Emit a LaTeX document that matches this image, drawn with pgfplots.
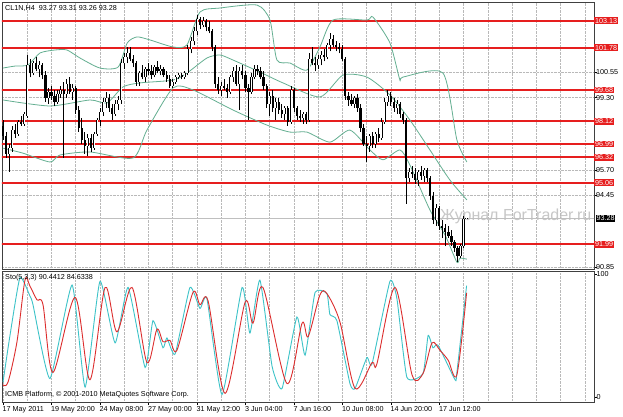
\documentclass[border=0pt]{standalone}
\usepackage{pgfplots}
\pgfplotsset{compat=1.18}
\usepackage{pgfplotstable}
\usepackage{fontspec}
\setmainfont{Liberation Sans}
\definecolor{mtred}{RGB}{230,30,30}
\definecolor{band}{RGB}{100,175,145}
\definecolor{stok}{RGB}{60,195,200}
\definecolor{stod}{RGB}{220,45,45}
\definecolor{gridc}{RGB}{185,185,185}
\newcommand{\fs}{\fontsize{7.2}{8}\selectfont}

\pgfplotstableread{
i o h l c
0 97.90 98.20 97.20 97.40
1 97.40 97.60 96.30 96.50
2 96.50 97.00 95.60 96.80
3 96.80 97.90 96.60 97.70
4 97.70 98.00 97.30 97.50
5 97.50 98.20 97.40 98.10
6 98.10 98.40 97.90 98.00
7 98.00 98.60 97.90 98.50
8 98.40 101.40 98.30 100.90
9 100.90 101.20 100.30 100.50
10 100.50 101.10 100.40 101.00
11 101.00 101.30 100.60 100.70
12 100.70 101.10 100.30 100.90
13 100.90 101.00 100.20 100.40
14 100.40 100.60 99.10 99.30
15 99.30 99.80 99.00 99.60
16 99.60 99.90 99.20 99.40
17 99.40 99.70 98.90 99.10
18 99.10 99.70 99.00 99.50
19 99.50 99.90 99.30 99.70
20 99.70 100.10 96.30 99.50
21 99.50 100.20 99.30 100.00
22 100.00 100.30 99.50 99.60
23 99.60 100.00 99.20 99.80
24 99.80 99.90 98.50 98.70
25 98.70 98.90 97.60 97.80
26 97.80 98.30 97.00 97.20
27 97.20 97.60 96.50 96.90
28 96.90 97.50 96.40 97.30
29 97.30 97.50 96.60 96.80
30 96.80 97.60 96.70 97.50
31 97.50 98.30 97.40 98.20
32 98.20 98.80 97.90 98.60
33 98.60 99.30 98.40 99.10
34 99.10 99.60 98.80 99.30
35 99.30 99.50 98.60 98.80
36 98.80 99.00 98.20 98.50
37 98.50 99.20 98.40 99.00
38 99.00 99.40 98.70 99.20
39 99.20 101.20 99.00 101.00
40 101.00 101.50 100.70 101.30
41 101.30 101.80 101.00 101.50
42 101.50 101.80 101.10 101.20
43 101.20 101.40 100.80 101.00
44 101.00 101.10 99.90 100.10
45 100.10 100.60 99.90 100.50
46 100.50 100.90 100.20 100.30
47 100.30 100.80 100.10 100.70
48 100.70 101.00 100.40 100.60
49 100.60 100.90 100.20 100.40
50 100.40 100.90 100.30 100.80
51 100.80 101.10 100.50 100.60
52 100.60 100.90 100.40 100.70
53 100.70 100.80 100.30 100.40
54 100.40 100.60 100.10 100.20
55 100.20 100.40 99.80 99.90
56 99.90 100.20 99.80 100.10
57 100.10 100.40 100.00 100.30
58 100.30 100.50 100.20 100.40
59 100.40 100.50 100.20 100.30
60 100.30 100.60 100.20 100.50
61 100.50 101.90 100.40 101.70
62 101.70 102.30 101.50 102.10
63 102.10 102.80 101.90 102.60
64 102.60 103.40 102.40 103.20
65 103.20 103.30 102.70 102.90
66 102.90 103.30 102.80 103.10
67 103.10 103.20 102.60 102.80
68 102.80 103.10 102.50 102.60
69 102.60 102.70 101.60 101.80
70 101.80 101.90 99.80 100.00
71 100.00 100.30 99.50 99.70
72 99.70 100.10 99.40 99.90
73 99.90 100.20 99.70 99.80
74 99.80 100.00 99.30 99.60
75 99.60 100.40 99.50 100.30
76 100.30 100.80 100.10 100.60
77 100.60 100.90 99.90 100.00
78 100.00 100.80 98.70 100.60
79 100.60 100.90 100.20 100.40
80 100.40 100.60 99.60 99.80
81 99.80 100.00 98.20 99.60
82 99.60 100.50 99.50 100.30
83 100.30 100.90 100.20 100.70
84 100.70 100.90 100.40 100.60
85 100.60 100.80 100.20 100.30
86 100.30 100.60 99.70 99.90
87 99.90 100.00 98.80 99.00
88 99.00 99.60 98.40 99.40
89 99.40 99.70 98.60 98.80
90 98.80 99.30 98.20 99.10
91 99.10 99.30 98.50 98.70
92 98.70 99.00 98.30 98.50
93 98.50 98.90 98.20 98.80
94 98.80 98.90 97.90 98.10
95 98.10 99.90 98.00 99.70
96 99.70 99.80 98.60 98.80
97 98.80 98.90 98.20 98.40
98 98.40 98.70 98.10 98.30
99 98.30 98.60 98.00 98.50
100 98.50 98.60 98.00 98.20
101 98.20 101.50 98.10 101.20
102 101.20 101.80 100.90 101.00
103 101.00 101.30 100.60 100.90
104 100.90 101.40 100.70 101.20
105 101.20 101.60 100.90 101.40
106 101.40 101.70 101.10 101.30
107 101.30 102.00 101.20 101.90
108 101.90 102.50 101.60 102.20
109 102.20 102.40 101.80 101.90
110 101.90 102.10 101.60 101.80
111 101.80 102.00 101.50 101.70
112 101.70 101.90 101.10 101.20
113 101.20 101.30 99.20 99.40
114 99.40 99.60 98.90 99.20
115 99.20 99.50 98.90 99.00
116 99.00 99.40 98.80 99.30
117 99.30 99.50 98.60 98.80
118 98.80 99.00 97.60 97.80
119 97.80 98.00 96.90 97.00
120 97.00 97.40 96.10 96.90
121 96.90 97.50 96.60 97.40
122 97.40 97.60 96.80 97.00
123 97.00 97.60 96.80 97.50
124 97.50 97.80 97.10 97.30
125 97.30 98.30 97.20 98.10
126 98.10 99.30 98.00 99.10
127 99.10 99.70 98.90 99.40
128 99.40 99.60 98.90 99.10
129 99.10 99.30 98.60 98.80
130 98.80 99.20 98.50 99.00
131 99.00 99.10 98.30 98.50
132 98.50 98.60 98.00 98.20
133 98.20 98.30 94.00 95.30
134 95.30 95.80 95.10 95.60
135 95.60 95.90 95.30 95.50
136 95.50 95.80 95.00 95.20
137 95.20 95.70 94.90 95.60
138 95.60 95.90 95.20 95.40
139 95.40 95.80 95.10 95.70
140 95.70 95.80 95.10 95.30
141 95.30 95.40 94.20 94.40
142 94.40 94.60 93.00 93.20
143 93.20 94.00 92.90 93.80
144 93.80 93.90 92.70 92.90
145 92.90 93.20 92.30 92.80
146 92.80 93.00 91.90 92.60
147 92.60 92.90 92.30 92.40
148 92.40 92.70 91.90 92.10
149 92.10 92.20 91.60 91.80
150 91.80 91.90 91.10 91.40
151 91.40 92.00 91.30 91.90
152 91.90 93.40 91.80 93.27
153 93.27 93.31 93.26 93.28
}\candles

\pgfplotstableread{
i v
0 100.77
4 100.87
8.3 100.92
12.2 101.52
17.2 101.67
21.1 101.67
25.4 101.27
32 100.77
38 100.82
41 102.02
44.2 102.32
48.5 102.17
56.1 101.82
60.7 101.92
65 103.56
71.6 103.76
83.8 103.91
88.1 103.16
90.4 101.17
94.7 101.02
100.3 100.67
104.6 101.82
108.9 103.16
120.1 103.16
122.1 103.31
127.7 102.02
131 100.17
132 100.32
145.2 100.52
149.8 97.19
153.1 96.09
}\bbu

\pgfplotstableread{
i v
0 99.18
15.5 98.88
28.7 99.18
34.3 99.03
39.6 99.83
45.2 100.03
56.1 100.17
60.7 100.52
67.3 101.27
71.6 101.42
75.9 101.17
84.8 100.57
92.4 100.03
104.6 99.33
112.2 100.42
120.1 100.32
127.7 99.43
134.3 98.18
140.9 96.69
147.5 95.19
153.1 94.20
}\bbm

\pgfplotstableread{
i v
0 96.78
6.6 96.53
15.5 96.09
18.8 96.44
28.7 96.59
42.9 96.29
47.5 97.68
56.1 99.78
62.7 99.68
75.9 98.68
87.1 97.93
94.7 97.58
100.3 97.58
107.9 97.08
114.5 97.68
121.1 96.69
125.4 96.20
131 96.69
134.3 95.94
140.9 93.70
145.9 92.45
149.8 91.10
150.8 91.30
153.1 91.25
}\bbl

\pgfplotstableread{
i v
0 12
2.3 50
5.6 97
8.9 82
9.9 75
15.5 15
22.8 91
27.1 8
32.0 94
37.0 44
41.3 89
46.9 24
49.5 62
52.8 40
54.1 48
56.8 35
61.7 89
65.0 72
67.3 80
72.3 2
78.9 89
81.5 52
84.8 95
88.8 25
92.1 7
97.0 65
99.7 34
103.0 85
106.9 84
107.9 67
110.2 62
114.5 11
116.2 7
120.1 32
121.8 27
127.7 94
130.0 80
133.3 16
138.6 19
140.3 50
141.9 40
143.6 42
149.2 14
149.8 20
153 90.44
}\stk

\pgfplotstableread{
i v
0 10
1.65 12
4.62 45
7.26 95
8.91 90
11.2 79
13.2 75
16.5 20
23.8 81
28.7 14
33.7 89
37.6 53
42.6 89
47.5 28
50.8 55
52.8 45
55.1 46
57.4 38
62.7 85
65.0 75
67.7 78
73.3 3
79.9 77
82.5 60
85.8 89
93.7 11
98.7 60
100.7 49
104.6 83
106.9 84
111.2 61
116.2 7
121.8 28
123.4 27
129.4 89
135.0 18
138.6 19
141.6 44
144.2 38
146.9 30
149.8 18
153 84.63
}\std

\begin{document}
\begin{tikzpicture}
\useasboundingbox (0,0) rectangle (623pt,-416pt);
\fill[white] (0,0) rectangle (623pt,-416pt);
\node[anchor=west, text=black!22, font=\fontsize{16}{18}\selectfont, inner sep=0pt] at (440pt,-216pt) {Журнал ForTrader.ru};

\begin{axis}[
  at={(2pt,-2pt)}, anchor=north west, scale only axis,
  width=592pt, height=267pt,
  xmin=-0.33, xmax=195.05, ymin=90.76, ymax=104.06,
  clip mode=individual,
  axis line style={black!75, line width=0.7pt},
  xtick={8,16,...,192}, xticklabels={}, xmajorgrids,
  xtick style={draw=none},
  ytick={90.85,94.45,95.70,99.30,100.55},
  yticklabels={90.85,94.45,95.70,99.30,100.55},
  ymajorgrids, ytick pos=right, yticklabel pos=right,
  tick align=outside, major tick length=2.5pt,
  ytick style={black, line width=0.5pt},
  yticklabel style={font=\fs, anchor=west, xshift=-1.5pt, inner sep=1pt},
  grid style={densely dotted, gridc, line width=0.5pt},
  extra y ticks={103.13,101.78,99.68,98.12,96.99,96.32,95.06,91.99},
  extra y tick labels={103.13,101.78,99.68,98.12,96.99,96.32,95.06,91.99},
  extra y tick style={grid=none, major tick length=0pt,
     yticklabel style={fill=mtred, text=white, inner sep=0.8pt, xshift=1.5pt}},
]
\addplot[fill=black!25, draw=none, forget plot] coordinates {(-1,93.235) (196,93.235) (196,93.325) (-1,93.325)};
% red levels as thin filled bands (about 1.8 px high)
\addplot[fill=mtred, draw=none, forget plot] coordinates {(-1,103.085) (196,103.085) (196,103.175) (-1,103.175)};
\addplot[fill=mtred, draw=none, forget plot] coordinates {(-1,101.735) (196,101.735) (196,101.825) (-1,101.825)};
\addplot[fill=mtred, draw=none, forget plot] coordinates {(-1,99.635) (196,99.635) (196,99.725) (-1,99.725)};
\addplot[fill=mtred, draw=none, forget plot] coordinates {(-1,98.075) (196,98.075) (196,98.165) (-1,98.165)};
\addplot[fill=mtred, draw=none, forget plot] coordinates {(-1,96.945) (196,96.945) (196,97.035) (-1,97.035)};
\addplot[fill=mtred, draw=none, forget plot] coordinates {(-1,96.275) (196,96.275) (196,96.365) (-1,96.365)};
\addplot[fill=mtred, draw=none, forget plot] coordinates {(-1,95.015) (196,95.015) (196,95.105) (-1,95.105)};
\addplot[fill=mtred, draw=none, forget plot] coordinates {(-1,91.945) (196,91.945) (196,92.035) (-1,92.035)};
\addplot[band, line width=0.8pt, mark=none, smooth, tension=0.4] table[x=i, y=v] {\bbu};
\addplot[band, line width=0.8pt, mark=none, smooth, tension=0.4] table[x=i, y=v] {\bbm};
\addplot[band, line width=0.8pt, mark=none, smooth, tension=0.4] table[x=i, y=v] {\bbl};
% wicks
\addplot[draw=none, mark=none, error bars/.cd, y dir=plus, y explicit, error mark=none,
   error bar style={draw=black, line width=0.7pt}]
   table[x=i, y=l, y error expr=\thisrow{h}-\thisrow{l}] {\candles};
% bear bodies
\addplot[draw=none, mark=none, restrict y to domain=80:120, error bars/.cd, y dir=plus, y explicit, error mark=none,
   error bar style={draw=black, line width=2.2pt}]
   table[x=i, y expr={\thisrow{c}<\thisrow{o} ? \thisrow{c} : -1000}, y error expr={abs(\thisrow{o}-\thisrow{c})}] {\candles};
% bull bodies
\addplot[draw=none, mark=none, restrict y to domain=80:120, error bars/.cd, y dir=plus, y explicit, error mark=none,
   error bar style={draw=black, line width=2.2pt}]
   table[x=i, y expr={\thisrow{c}<\thisrow{o} ? -1000 : \thisrow{o}}, y error expr={abs(\thisrow{o}-\thisrow{c})}] {\candles};
\addplot[draw=none, mark=none, restrict y to domain=80:120, error bars/.cd, y dir=plus, y explicit, error mark=none,
   error bar style={draw=white, line width=0.7pt}]
   table[x=i, y expr={\thisrow{c}<\thisrow{o} ? -1000 : \thisrow{o}}, y error expr={abs(\thisrow{o}-\thisrow{c})}] {\candles};
\node[fill=black, text=white, font=\fs, inner sep=0.8pt, anchor=west, xshift=1.5pt] at (axis cs:195.05,93.28) {93.28};
\end{axis}

\begin{axis}[
  at={(2pt,-271pt)}, anchor=north west, scale only axis,
  width=592pt, height=131pt,
  xmin=-0.33, xmax=195.05, ymin=-4.07, ymax=102.4,
  axis line style={black!75, line width=0.7pt},
  xtick={0,16,...,144},
  xticklabels={17 May 2011,19 May 20:00,24 May 08:00,27 May 00:00,31 May 12:00,3 Jun 04:00,7 Jun 16:00,10 Jun 08:00,14 Jun 20:00,17 Jun 12:00},
  minor xtick={8,24,...,184,160,176,192},
  xmajorgrids, xminorgrids,
  xtick pos=bottom, tick align=outside, major tick length=3pt, minor tick length=0pt,
  xtick style={black, line width=0.5pt},
  xticklabel style={font=\fs, anchor=north west, xshift=-1.5pt, inner sep=1pt},
  ytick={0,100}, yticklabels={0,100},
  ytick pos=right, yticklabel pos=right,
  ytick style={black, line width=0.5pt},
  yticklabel style={font=\fs, anchor=west, xshift=-1.5pt, inner sep=1pt},
  grid style={densely dotted, gridc, line width=0.5pt},
]
\addplot[stok, line width=0.9pt, mark=none, smooth, tension=0.3] table[x=i, y=v] {\stk};
\addplot[stod, line width=0.9pt, mark=none, smooth, tension=0.5] table[x=i, y=v] {\std};
\end{axis}

\node[anchor=west, font=\fs, inner sep=0pt] at (5pt,-8pt) {CL1N,H4\ \ 93.27 93.31 93.26 93.28};
\node[anchor=west, font=\fs, inner sep=0pt] at (5pt,-278pt) {Sto(5,3,3) 90.4412 84.6338};
\node[anchor=west, font=\fs, inner sep=0pt] at (5pt,-395pt) {ICMB Platform, © 2001-2010 MetaQuotes Software Corp.};
\end{tikzpicture}
\end{document}
